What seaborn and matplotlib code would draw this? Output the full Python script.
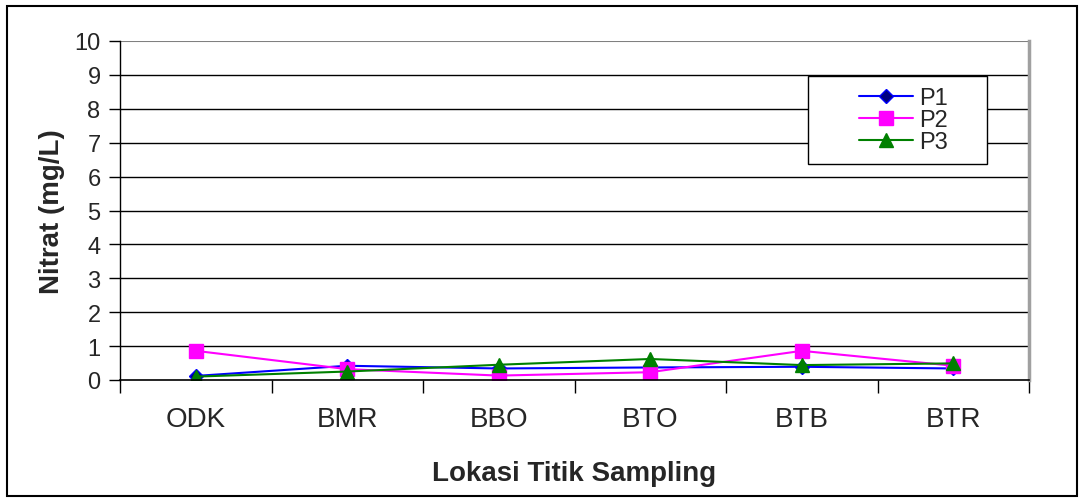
import matplotlib
matplotlib.use("Agg")
import matplotlib.pyplot as plt
import seaborn as sns
import pandas as pd
from matplotlib.patches import Rectangle
from matplotlib.ticker import FixedLocator

categories = ["ODK", "BMR", "BBO", "BTO", "BTB", "BTR"]
p1 = [0.12, 0.42, 0.34, 0.37, 0.39, 0.34]
p2 = [0.86, 0.32, 0.13, 0.23, 0.86, 0.42]
p3 = [0.10, 0.25, 0.45, 0.62, 0.44, 0.49]
series_names = ["P1", "P2", "P3"]
y_ticks = list(range(0, 11))

sns.set_style("white")
plt.rcParams['font.family'] = ['Liberation Sans', 'DejaVu Sans']

df = pd.DataFrame({
    "Lokasi": categories * 3,
    "Nitrat": p1 + p2 + p3,
    "Seri": sum([[n] * len(categories) for n in series_names], []),
})

W, H = 1084, 502
fig = plt.figure(figsize=(W / 100, H / 100), dpi=100)
ax = fig.add_axes([120/W, 1 - 381/H, (1029-120)/W, (381-42)/H])

palette = {"P1": "#0000ff", "P2": "#ff00ff", "P3": "#008000"}
markers = {"P1": "D", "P2": "s", "P3": "^"}
sizes_ms = {"P1": 7, "P2": 10, "P3": 10}
faces = {"P1": "#000080", "P2": "#ff00ff", "P3": "#008000"}
for name in series_names:
    sub = df[df["Seri"] == name]
    sns.lineplot(data=sub, x="Lokasi", y="Nitrat", ax=ax, color=palette[name],
                 marker=markers[name], markersize=sizes_ms[name],
                 markeredgecolor=palette[name],
                 markerfacecolor=faces[name], markeredgewidth=1,
                 linewidth=1.5, label=name, sort=False)

ax.set_xlim(-0.5, 5.5)
ax.set_ylim(0, 10)
ax.set_yticks(y_ticks)
ax.set_yticklabels([str(t) for t in y_ticks], fontsize=17)
ax.set_xticks(range(len(categories)))
ax.set_xticklabels(categories, fontsize=20)
ax.xaxis.set_minor_locator(FixedLocator([i - 0.5 for i in range(len(categories) + 1)]))
ax.tick_params(axis='x', which='major', length=0, pad=19)
ax.tick_params(axis='x', which='minor', length=9, width=1, color='black', direction='out', bottom=True)
ax.tick_params(axis='y', length=8, width=1, color='black', direction='out', pad=6, left=True)

for t in y_ticks[1:-1]:
    ax.axhline(t, color='#000000', lw=1, zorder=0)
ax.axhline(10, color='#808080', lw=1.5, zorder=0)

ax.spines['top'].set_visible(False)
ax.spines['right'].set_color('#a0a0a0')
ax.spines['right'].set_linewidth(2.5)
ax.spines['left'].set_color('black')
ax.spines['bottom'].set_color('black')
ax.spines['left'].set_linewidth(1)
ax.spines['bottom'].set_linewidth(1.2)

ax.set_xlabel("Lokasi Titik Sampling", fontsize=20, fontweight='bold', labelpad=20)
ax.set_ylabel("Nitrat (mg/L)", fontsize=20, fontweight='bold', labelpad=7)

# legend: frameless, with a manual box like the reference
leg = ax.legend(loc='upper left', bbox_to_anchor=((847-120)/909, (381-76)/339),
                fontsize=17, frameon=False,
                handlelength=2.3, borderpad=0.0, labelspacing=0.0, handletextpad=0.25)
ax.add_patch(Rectangle(((808-120)/909, (381-165)/339), (987-808)/909, (165-77)/339,
                       transform=ax.transAxes, fill=True, facecolor='white',
                       edgecolor='black', lw=1, zorder=4))
leg.set_zorder(5)

fig.patches.append(Rectangle((7/W, 5/H), 1070/W, 490/H, transform=fig.transFigure,
                             fill=False, edgecolor='black', lw=1.5))

fig.savefig("out.png", dpi=100)
